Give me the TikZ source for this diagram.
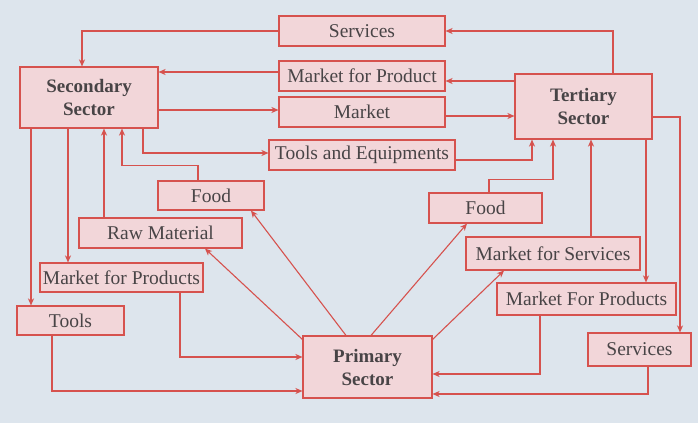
\documentclass[tikz,border=0pt]{standalone}
\usepackage{fontspec}
\setmainfont{Liberation Serif}
\usetikzlibrary{arrows.meta}
\definecolor{bg}{RGB}{221,229,237}
\definecolor{ln}{RGB}{214,82,78}
\definecolor{bx}{RGB}{242,214,217}
\definecolor{tx}{RGB}{72,68,70}
\tikzset{
  box/.style={draw=ln, fill=bx, line width=1.1pt, inner sep=0pt, text=tx, font=\fontsize{19.5}{21}\selectfont},
  bigbox/.style={box, font=\fontsize{19}{23}\selectfont\bfseries, align=center},
  arr/.style={draw=ln, line width=1.1pt, -{Stealth[length=7pt,width=6pt,inset=2pt]}},
}
\begin{document}
\begin{tikzpicture}[x=1pt,y=-1pt]
\fill[bg] (0,0) rectangle (698,423);
\useasboundingbox (0,0) rectangle (698,423);
% nodes
\node[box, minimum width=166pt, minimum height=30pt] (sv)  at (362,31)   {Services};
\node[box, minimum width=166pt, minimum height=30pt] (mp)  at (362,76)   {Market for Product};
\node[box, minimum width=166pt, minimum height=30pt] (mk)  at (362,112)  {Market};
\node[box, minimum width=186pt, minimum height=30pt] (te)  at (362,155)  {Tools and Equipments};
\node[bigbox, minimum width=138pt, minimum height=61pt] (sec) at (89,97.5) {Secondary\\Sector};
\node[bigbox, minimum width=137pt, minimum height=65pt] (ter) at (583.5,106.5) {Tertiary\\Sector};
\node[box, minimum width=106pt, minimum height=29pt] (fl)  at (211,195.5) {Food};
\node[box, minimum width=163pt, minimum height=30pt] (rm)  at (160.5,233) {Raw Material};
\node[box, minimum width=163pt, minimum height=29pt] (mpl) at (121.5,277.5) {Market for Products};
\node[box, minimum width=107pt, minimum height=29pt] (tl)  at (70.5,320.5) {Tools};
\node[bigbox, minimum width=129pt, minimum height=62pt] (pri) at (367.5,367) {Primary\\Sector};
\node[box, minimum width=113pt, minimum height=30pt] (fr)  at (485.5,208) {Food};
\node[box, minimum width=174pt, minimum height=33pt] (ms)  at (553,253.5) {Market for Services};
\node[box, minimum width=179pt, minimum height=32pt] (mpr) at (586.5,299) {Market For Products};
\node[box, minimum width=103pt, minimum height=33pt] (svr) at (639.5,349.5) {Services};
% connectors
\draw[arr] ([xshift=29.5pt]ter.north) |- (sv.east);
\draw[arr] (sv.west) -| ([xshift=-7pt]sec.north);
\draw[arr] ([yshift=25.5pt]ter.west) -- ([yshift=-5pt]mp.east);
\draw[arr] ([yshift=4pt]mp.west) -- ([yshift=25.5pt]sec.east);
\draw[arr] ([yshift=-12.5pt]sec.east) -- ([yshift=2pt]mk.west);
\draw[arr] ([yshift=-4pt]mk.east) -- ([yshift=-9.5pt]ter.west);
\draw[arr] ([xshift=54pt]sec.south) |- ([yshift=2pt]te.west);
\draw[arr] ([yshift=-5pt]te.east) -| ([xshift=-51.5pt]ter.south);
\draw[arr] ([xshift=3.5pt]fr.north) -- ++(0,-13) -| ([xshift=-30.5pt]ter.south);
\draw[arr] ([xshift=38pt]ms.north) -- ([xshift=7.5pt]ter.south);
\draw[arr] ([xshift=62.5pt]ter.south) -- ([xshift=59.5pt]mpr.north);
\draw[arr] ([yshift=-10.5pt]ter.east) -| ([xshift=40.5pt]svr.north);
\draw[arr] ([xshift=-21.5pt]pri.north) -- ([xshift=40pt]fl.south);
\draw[arr] ([yshift=-4pt]pri.north west) -- ([xshift=44.5pt]rm.south);
\draw[arr] ([xshift=58.5pt]mpl.south) |- ([yshift=10pt]pri.west);
\draw[arr] ([xshift=-18.5pt]tl.south) |- ([yshift=-24pt]pri.west);
\draw[arr] ([xshift=3.5pt]pri.north) -- ([xshift=-18.5pt]fr.south);
\draw[arr] ([yshift=-4pt]pri.north east) -- ([xshift=-49pt]ms.south);
\draw[arr] ([xshift=-46.5pt]mpr.south) |- ([yshift=-7pt]pri.east);
\draw[arr] ([xshift=8.5pt]svr.south) |- ([yshift=-27pt]pri.east);
\draw[arr] ([xshift=-58pt]sec.south) -- ([xshift=-39.5pt]tl.north);
\draw[arr] ([xshift=-21pt]sec.south) -- ([xshift=-53.5pt]mpl.north);
\draw[arr] ([xshift=-56.5pt]rm.north) -- ([xshift=15pt]sec.south);
\draw[arr] ([xshift=-13pt]fl.north) -- ++(0,-15) -| ([xshift=33pt]sec.south);
\end{tikzpicture}
\end{document}
